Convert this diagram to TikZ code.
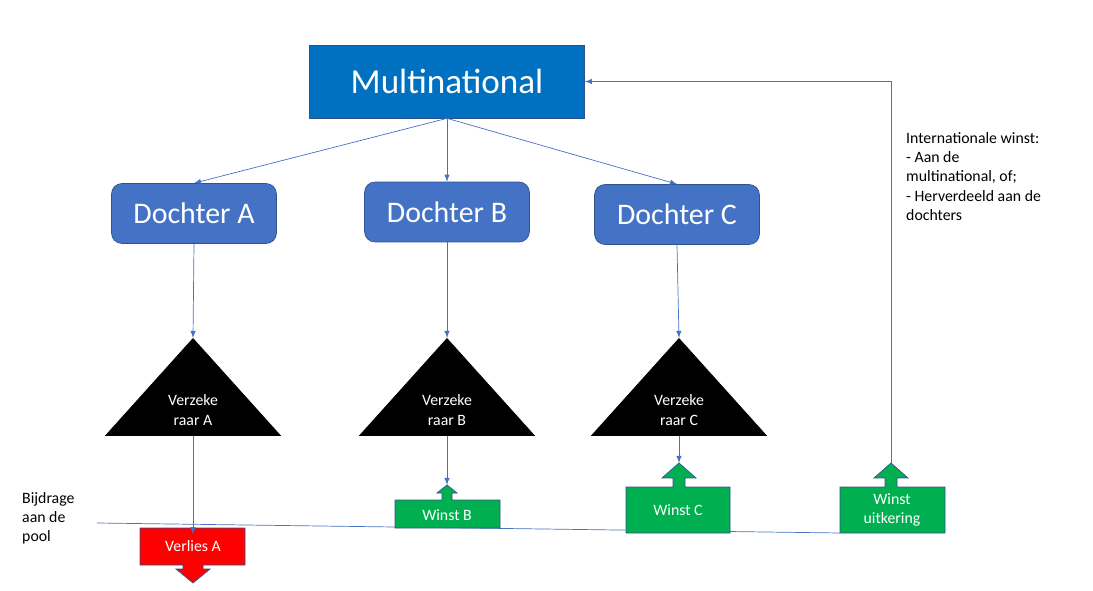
\documentclass[tikz,border=0pt]{standalone}
\usepackage{fontspec}
\setmainfont{Carlito}
\usetikzlibrary{shapes.geometric}
\definecolor{mnblue}{HTML}{0070C0}
\definecolor{dblue}{HTML}{4472C4}
\definecolor{dedge}{HTML}{2F528F}
\definecolor{wgreen}{HTML}{00B050}
\tikzset{
  dochter/.style={draw=dedge,fill=dblue,rounded corners=6pt,minimum width=3.3cm,minimum height=1.2cm,text=white,font=\fontsize{17}{17}\selectfont},
  verz/.style={draw=black,fill=black,isosceles triangle,shape border rotate=90,isosceles triangle apex angle=84,minimum height=1.94cm,inner sep=0pt},
  pijl/.style={dblue,-latex},
  kader/.style={draw=dedge,text=white,font=\small,align=center},
}
\begin{document}
\begin{tikzpicture}[x=0.02cm,y=-0.02cm]
  \useasboundingbox (0,0) rectangle (1093,591);
  % top
  \node[draw=dedge,fill=mnblue,minimum width=5.5cm,minimum height=1.46cm,text=white,font=\fontsize{20}{20}\selectfont] (mn) at (447,81.5) {Multinational};
  \node[dochter] (da) at (194,213.5) {Dochter A};
  \node[dochter] (db) at (447,212) {Dochter B};
  \node[dochter] (dc) at (677,214.5) {Dochter C};
  \foreach \d in {da,db,dc} \draw[pijl] (mn.south) -- (\d.north);
  % insurers
  \node[verz,anchor=apex] (va) at (193,338) {};
  \node[verz,anchor=apex] (vb) at (447,338) {};
  \node[verz,anchor=apex] (vc) at (679,338) {};
  \node[text=white,align=center,font=\small] (ta) at (193,410) {Verzeke\\raar A};
  \node[text=white,align=center,font=\small] (tb) at (447,410) {Verzeke\\raar B};
  \node[text=white,align=center,font=\small] (tc) at (679,410) {Verzeke\\raar C};
  \draw[pijl] (da.south) -- (va.apex);
  \draw[pijl] (db.south) -- (vb.apex);
  \draw[pijl] (dc.south) -- (vc.apex);
  % pool line
  \coordinate (p1) at (97,523);
  \coordinate (p2) at (840,533);
  \draw[dblue] (p1) -- (p2);
  % callouts
  \draw[draw=dedge,fill=red] (140,528) -- (245,528) -- (245,565) -- (203,565) -- (203,569) -- (210,569) -- (193,583) -- (176,569) -- (183,569) -- (183,565) -- (140,565) -- cycle;
  \node[text=white,font=\small] (vl) at (193,546) {Verlies A};
  \draw[draw=dedge,fill=wgreen] (395,500) -- (442,500) -- (442,493) -- (437,493) -- (447,485) -- (457,493) -- (452,493) -- (452,500) -- (500,500) -- (500,528) -- (395,528) -- cycle;
  \coordinate (wbtop) at (447,485);
  \node[text=white,font=\small] (wb) at (447,515) {Winst B};
  \draw[draw=dedge,fill=wgreen] (626,487) -- (673,487) -- (673,478) -- (662,478) -- (679,463) -- (696,478) -- (685,478) -- (685,487) -- (730,487) -- (730,533) -- (626,533) -- cycle;
  \coordinate (wctop) at (679,463);
  \node[text=white,font=\small] (wc) at (678,510) {Winst C};
  \draw[draw=dedge,fill=wgreen] (840,487) -- (885,487) -- (885,478) -- (874,478) -- (891,463) -- (908,478) -- (897,478) -- (897,487) -- (945,487) -- (945,533) -- (840,533) -- cycle;
  \coordinate (wutop) at (891,463);
  \node[text=white,font=\small,align=center] (wu) at (892,510) {Winst\\uitkering};
  \draw[pijl] (va.south) -- (vl.north);
  \draw[pijl] (vb.south) -- (wbtop);
  \draw[pijl] (vc.south) -- (wctop);
  \draw[pijl] (wutop) |- (mn.east);
  % texts
  \node[anchor=north west,align=left,font=\small] (iw) at (900,126) {Internationale winst:\\- Aan de\\multinational, of;\\- Herverdeeld aan de\\dochters};
  \node[anchor=north west,align=left,font=\small] (bp) at (16,486) {Bijdrage\\aan de\\pool};
\end{tikzpicture}
\end{document}
